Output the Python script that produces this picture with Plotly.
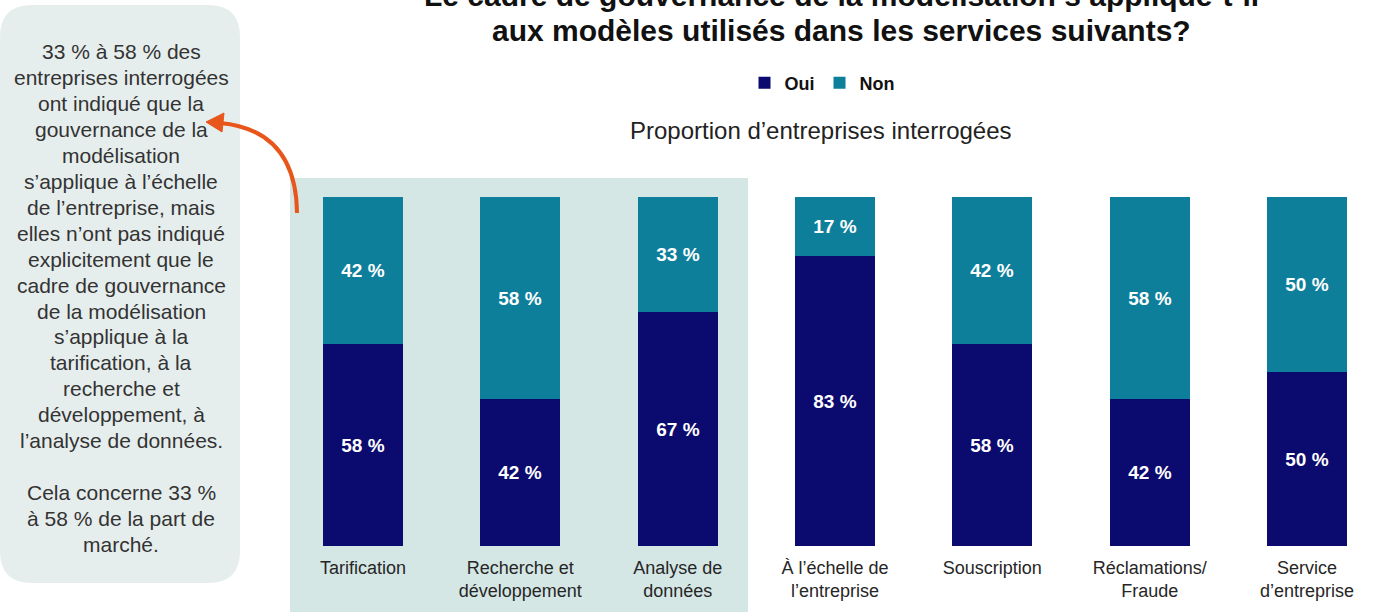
import plotly.graph_objects as go

# ---- data ----
categories = ["Tarification", "Recherche et<br>développement", "Analyse de<br>données",
              "À l’échelle de<br>l’entreprise", "Souscription", "Réclamations/<br>Fraude",
              "Service<br>d’entreprise"]
oui = [58, 42, 67, 83, 58, 42, 50]
non = [42, 58, 33, 17, 42, 58, 50]
series_names = ["Oui", "Non"]

title_line1 = "Le cadre de gouvernance de la modélisation s’applique-t-il"
title_line2 = "aux modèles utilisés dans les services suivants?"
subtitle = "Proportion d’entreprises interrogées"
side_lines = ["33 % à 58 % des", "entreprises interrogées", "ont indiqué que la", "gouvernance de la",
              "modélisation", "s’applique à l’échelle", "de l’entreprise, mais", "elles n’ont pas indiqué",
              "explicitement que le", "cadre de gouvernance", "de la modélisation", "s’applique à la",
              "tarification, à la", "recherche et", "développement, à", "l’analyse de données.",
              "", "Cela concerne 33 %", "à 58 % de la part de", "marché."]

# ---- style ----
W, H = 1373, 612
L, R, T, B = 285, 0, 197, 66
PW, PH = W - L - R, H - T - B
FONT = "Liberation Sans, Arial, sans-serif"
C_OUI = "#0b0a6e"
C_NON = "#0e7f9b"
C_BOX = "#e6eeed"
C_SHADE = "#d4e7e5"
C_ARROW = "#e8561c"

def px(x):
    return (x - L) / PW

def py(y):
    return (H - B - y) / PH

x_idx = list(range(len(categories)))
step = (1307 - 363) / 6.0
x_lo = -(363 - L) / step
x_hi = (W - R - 363) / step

fig = go.Figure()
for name, vals, col in [(series_names[0], oui, C_OUI), (series_names[1], non, C_NON)]:
    fig.add_trace(go.Bar(
        x=x_idx, y=vals, name=name, marker=dict(color=col, line=dict(width=0)),
        width=80 / step,
        text=[f"{v} %" for v in vals], textposition="inside", insidetextanchor="middle",
        textangle=0, constraintext="none",
        textfont=dict(color="white", size=19, family=FONT, weight=700),
        hoverinfo="skip",
    ))

# rounded side box
x0, x1, y0, y1, r = 0, 240, 5, 583, 32
path = (f"M{px(x0 + r)},{py(y0)} L{px(x1 - r)},{py(y0)} Q{px(x1)},{py(y0)} {px(x1)},{py(y0 + r)} "
        f"L{px(x1)},{py(y1 - r)} Q{px(x1)},{py(y1)} {px(x1 - r)},{py(y1)} "
        f"L{px(x0 + r)},{py(y1)} Q{px(x0)},{py(y1)} {px(x0)},{py(y1 - r)} "
        f"L{px(x0)},{py(y0 + r)} Q{px(x0)},{py(y0)} {px(x0 + r)},{py(y0)} Z")
shapes = [
    dict(type="path", path=path, xref="paper", yref="paper", fillcolor=C_BOX,
         line=dict(width=0), layer="below"),
    dict(type="rect", xref="x", yref="paper", x0=(290 - 363) / step, x1=(748 - 363) / step,
         y0=py(H + 5), y1=py(178), fillcolor=C_SHADE, line=dict(width=0), layer="below"),
    # curved arrow
    dict(type="path", xref="paper", yref="paper",
         path=f"M{px(297)},{py(213)} Q{px(296)},{py(130)} {px(220)},{py(123)}",
         line=dict(color=C_ARROW, width=4)),
    dict(type="path", xref="paper", yref="paper",
         path=f"M{px(206)},{py(122)} L{px(224)},{py(113)} L{px(222)},{py(132)} Z",
         fillcolor=C_ARROW, line=dict(color=C_ARROW, width=1)),
]

annotations = [
    dict(text=title_line1, x=px(841), y=py(-5), xref="paper", yref="paper", showarrow=False,
         xanchor="center", yanchor="middle", font=dict(size=30, family=FONT, color="#111111", weight=700)),
    dict(text=title_line2, x=px(841), y=py(30), xref="paper", yref="paper", showarrow=False,
         xanchor="center", yanchor="middle", font=dict(size=30, family=FONT, color="#111111", weight=700)),
    dict(text=subtitle, x=px(821), y=py(130), xref="paper", yref="paper", showarrow=False,
         xanchor="center", yanchor="middle", font=dict(size=24, family=FONT, color="#222222")),
]
for i, line in enumerate(side_lines):
    if line:
        annotations.append(dict(text=line, x=px(121), y=py(52 + 25.9 * i), xref="paper", yref="paper",
                                showarrow=False, xanchor="center", yanchor="middle",
                                font=dict(size=21, family=FONT, color="#333333")))

fig.update_layout(
    width=W, height=H, barmode="stack",
    margin=dict(l=L, r=R, t=T, b=B, pad=0),
    paper_bgcolor="white", plot_bgcolor="rgba(0,0,0,0)",
    font=dict(family=FONT),
    bargap=0,
    shapes=shapes, annotations=annotations,
    legend=dict(orientation="h", x=px(822), y=py(83), xanchor="center", yanchor="middle",
                font=dict(size=18, family=FONT, color="#111111", weight=700),
                bgcolor="rgba(0,0,0,0)", itemwidth=30, traceorder="normal"),
    xaxis=dict(range=[x_lo, x_hi], tickmode="array", tickvals=x_idx, ticktext=categories,
               showgrid=False, zeroline=False, showline=False, ticks="", ticklabelstandoff=9,
               tickfont=dict(size=18, family=FONT, color="#262626")),
    yaxis=dict(range=[0, 100], visible=False, showgrid=False, zeroline=False),
)

fig.write_html("out.html")
